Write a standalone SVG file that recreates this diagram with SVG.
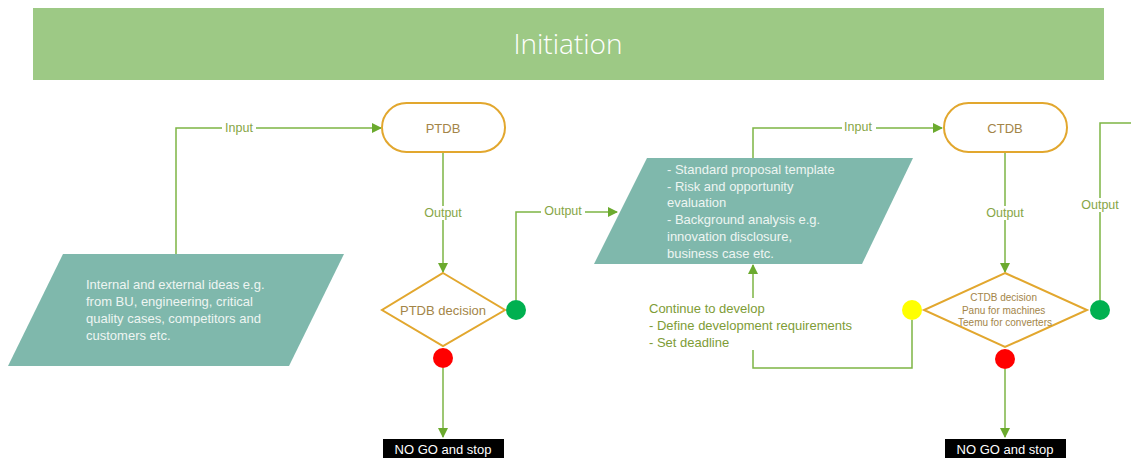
<svg xmlns="http://www.w3.org/2000/svg" width="1131" height="459" viewBox="0 0 1131 459">
<style>
  .conn{fill:none;stroke:#7DB544;stroke-width:1.5;}
  .lbl{font-family:"Liberation Sans",Arial,sans-serif;font-size:12.5px;fill:#86A546;text-anchor:middle;dominant-baseline:central;}
  .lblbg{fill:#ffffff;}
  .para{fill:#7FB8AC;}
  .ptxt{font-family:"Liberation Sans",Arial,sans-serif;font-size:13px;fill:#EEF5F2;}
  .term{fill:#ffffff;stroke:#E2A72E;stroke-width:2;}
  .ntxt{font-family:"Liberation Sans",Arial,sans-serif;fill:#A38548;text-anchor:middle;dominant-baseline:central;}
  .stop{fill:#000000;}
  .stxt{font-family:"Liberation Sans",Arial,sans-serif;font-size:13px;fill:#ffffff;text-anchor:middle;dominant-baseline:central;}
</style>
<defs>
  <marker id="arr" viewBox="0 0 10 10" refX="9" refY="5" markerWidth="10" markerHeight="10" markerUnits="userSpaceOnUse" orient="auto">
    <path d="M0,0 L10,5 L0,10 z" fill="#6BAA2E"/>
  </marker>
</defs>

<g id="header">
  <rect x="33" y="8" width="1071" height="72" fill="#9DC985"/>
  <text x="568" y="43" font-family="'Open Sans','Liberation Sans',sans-serif" font-weight="300" font-size="28" fill="#ffffff" text-anchor="middle" dominant-baseline="central">Initiation</text>
</g>

<g id="connectors">
  <path class="conn" d="M176,254 V128 H381" marker-end="url(#arr)"/>
  <path class="conn" d="M443,152 V272" marker-end="url(#arr)"/>
  <path class="conn" d="M443,368 V437" marker-end="url(#arr)"/>
  <path class="conn" d="M516,300 V212 H617" marker-end="url(#arr)"/>
  <path class="conn" d="M753,158 V128 H942" marker-end="url(#arr)"/>
  <path class="conn" d="M1005,152 V272" marker-end="url(#arr)"/>
  <path class="conn" d="M1005,369 V437" marker-end="url(#arr)"/>
  <path class="conn" d="M1100,300 V123 H1131"/>
  <path class="conn" d="M912,320 V368 H753 V265" marker-end="url(#arr)"/>
  <rect class="lblbg" x="222" y="121" width="34" height="14"/>
  <text class="lbl" x="239" y="128">Input</text>
  <rect class="lblbg" x="842" y="121" width="34" height="14"/>
  <text class="lbl" x="858" y="127">Input</text>
  <rect class="lblbg" x="421" y="206" width="44" height="14"/>
  <text class="lbl" x="443" y="213">Output</text>
  <rect class="lblbg" x="541" y="205" width="44" height="14"/>
  <text class="lbl" x="563" y="211">Output</text>
  <rect class="lblbg" x="983" y="206" width="44" height="14"/>
  <text class="lbl" x="1005" y="213">Output</text>
  <rect class="lblbg" x="1078" y="198" width="44" height="14"/>
  <text class="lbl" x="1100" y="205">Output</text>
  <rect class="lblbg" x="646" y="298" width="216" height="52"/>
  <text font-family="'Liberation Sans',Arial,sans-serif" font-size="13" fill="#7E9C36">
    <tspan x="649" y="313">Continue to develop</tspan>
    <tspan x="649" y="330">- Define development requirements</tspan>
    <tspan x="649" y="347">- Set deadline</tspan>
  </text>
</g>

<g id="ideas">
  <polygon class="para" points="63,254 344,254 289,366 8,366"/>
  <text class="ptxt">
    <tspan x="86" y="289">Internal and external ideas e.g.</tspan>
    <tspan x="86" y="306">from BU, engineering, critical</tspan>
    <tspan x="86" y="323">quality cases, competitors and</tspan>
    <tspan x="86" y="340">customers etc.</tspan>
  </text>
</g>

<g id="ptdb">
  <rect class="term" x="382" y="103" width="123" height="49" rx="24.5"/>
  <text class="ntxt" x="443" y="128" font-size="13">PTDB</text>
</g>

<g id="ptdb-decision">
  <polygon class="term" points="443,273 505,310 443,346 382,310"/>
  <text class="ntxt" x="443" y="310" font-size="13">PTDB decision</text>
</g>
<g id="ptdb-go"><circle cx="516" cy="310" r="10" fill="#00B050"/></g>
<g id="ptdb-nogo"><circle cx="443" cy="358" r="10" fill="#FF0000"/></g>
<g id="ptdb-stop">
  <rect class="stop" x="383" y="439" width="121" height="19"/>
  <text class="stxt" x="443" y="449">NO GO and stop</text>
</g>

<g id="proposal">
  <polygon class="para" points="647,158 913,158 862,264 594,264"/>
  <text class="ptxt">
    <tspan x="667" y="174">- Standard proposal template</tspan>
    <tspan x="667" y="191">- Risk and opportunity</tspan>
    <tspan x="667" y="207">evaluation</tspan>
    <tspan x="667" y="224">- Background analysis e.g.</tspan>
    <tspan x="667" y="241">innovation disclosure,</tspan>
    <tspan x="667" y="258">business case etc.</tspan>
  </text>
</g>

<g id="ctdb">
  <rect class="term" x="944" y="103" width="123" height="49" rx="24.5"/>
  <text class="ntxt" x="1005" y="128" font-size="13">CTDB</text>
</g>

<g id="ctdb-decision">
  <polygon class="term" points="1005,273 1087,310 1005,347 924,310"/>
  <text class="ntxt" font-size="10">
    <tspan x="1005" y="297">CTDB decision</tspan>
    <tspan x="1005" y="310">Panu for machines</tspan>
    <tspan x="1005" y="322">Teemu for converters</tspan>
  </text>
</g>
<g id="ctdb-continue"><circle cx="912" cy="310" r="10" fill="#FFFF00"/></g>
<g id="ctdb-go"><circle cx="1100" cy="310" r="10" fill="#00B050"/></g>
<g id="ctdb-nogo"><circle cx="1005" cy="359" r="10" fill="#FF0000"/></g>
<g id="ctdb-stop">
  <rect class="stop" x="945" y="439" width="121" height="19"/>
  <text class="stxt" x="1005" y="449">NO GO and stop</text>
</g>
</svg>
